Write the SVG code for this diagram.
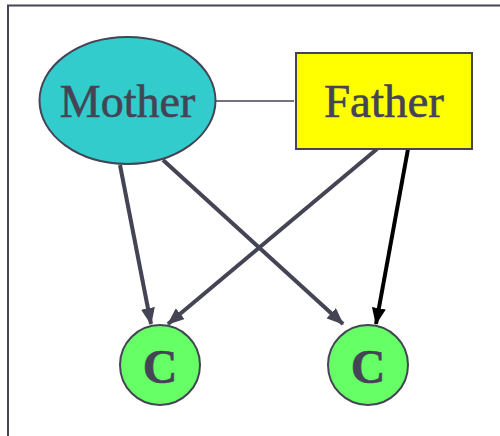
<svg xmlns="http://www.w3.org/2000/svg" width="500" height="436" viewBox="0 0 500 436">
<style>
.lbl{font-family:"Liberation Serif","Times New Roman",serif;fill:#444455;stroke:#444455;stroke-width:0.6;text-anchor:middle}
.edge{stroke:#444455;stroke-width:4;fill:none}
</style>
<defs>
<marker id="ah" markerWidth="17" markerHeight="14" refX="16" refY="7" orient="auto" markerUnits="userSpaceOnUse">
<path d="M0,0 L17,7 L0,14 Z" fill="#444455"/>
</marker>
<marker id="ahk" markerWidth="17" markerHeight="14" refX="16" refY="7" orient="auto" markerUnits="userSpaceOnUse">
<path d="M0,0 L17,7 L0,14 Z" fill="#000000"/>
</marker>
</defs>
<rect width="500" height="436" fill="#ffffff"/>
<path d="M8,440 L8,5.5 L505,5.5" fill="none" stroke="#444455" stroke-width="2"/>
<g id="connectors">
<line x1="216" y1="101" x2="294" y2="101" stroke="#444455" stroke-width="1.6"/>
<line class="edge" x1="120" y1="165" x2="151" y2="324" marker-end="url(#ah)"/>
<line class="edge" x1="163" y1="160" x2="343" y2="324" marker-end="url(#ah)"/>
<line class="edge" x1="377" y1="149" x2="168" y2="324" marker-end="url(#ah)"/>
<line x1="408" y1="149" x2="376" y2="324" stroke="#000000" stroke-width="4" marker-end="url(#ahk)"/>
</g>
<g id="mother">
<ellipse cx="127.5" cy="100.5" rx="88" ry="63.5" fill="#33cccc" stroke="#444455" stroke-width="2"/>
<text class="lbl" x="127.5" y="117" font-size="46">Mother</text>
</g>
<g id="father">
<rect x="296" y="53" width="176" height="96" fill="#ffff00" stroke="#444455" stroke-width="2"/>
<text class="lbl" x="384" y="117" font-size="47">Father</text>
</g>
<g id="child1">
<circle cx="160" cy="365" r="40" fill="#66ff66" stroke="#444455" stroke-width="2"/>
<text class="lbl" x="160" y="383" font-size="48" font-weight="bold" stroke-width="0">C</text>
</g>
<g id="child2">
<circle cx="368" cy="365" r="40" fill="#66ff66" stroke="#444455" stroke-width="2"/>
<text class="lbl" x="368" y="383" font-size="48" font-weight="bold" stroke-width="0">C</text>
</g>
</svg>
